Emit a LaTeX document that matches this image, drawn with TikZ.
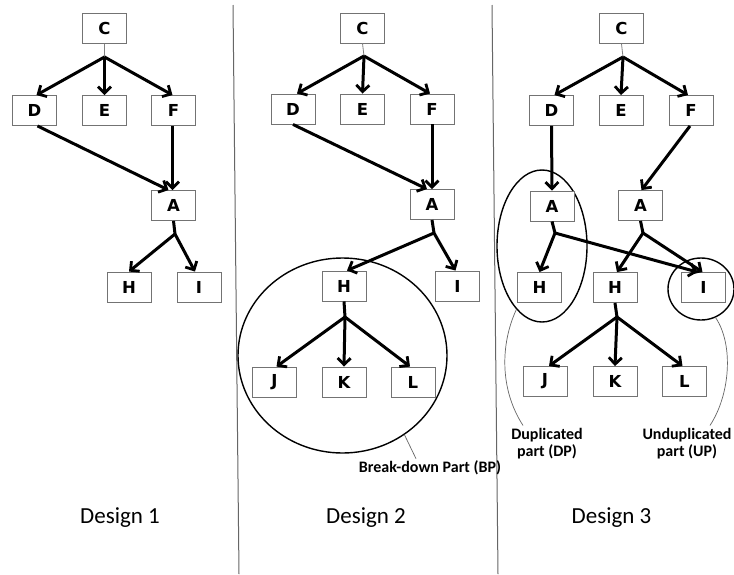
\documentclass[tikz,border=0pt]{standalone}
\usepackage{fontspec}
\setmainfont{Carlito}
\newfontfamily\letterfont{DejaVu Sans}
\usetikzlibrary{arrows.meta,shapes.geometric}
\begin{document}
\begin{tikzpicture}[x=1pt,y=-1pt,
 box/.style={draw=black!55,fill=white,line width=0.9pt,minimum width=44pt,minimum height=30pt,inner sep=0pt,font=\letterfont\bfseries\fontsize{16.5}{18}\selectfont},
 arr/.style={line width=3pt,-{Straight Barb[length=6.5pt,width=13pt,line width=2.8pt]}},
 stub/.style={line width=3pt},
 thinstub/.style={draw=black!50,line width=0.8pt},
 part/.style={draw,line width=1.4pt,ellipse,inner sep=0pt},
 lead/.style={draw=black!60,line width=0.7pt},
 note/.style={font=\bfseries\fontsize{16}{17}\selectfont,align=center,inner sep=0pt},
 title/.style={font=\fontsize{23}{26}\selectfont,inner sep=0pt},
 sep/.style={draw=black!60,line width=1pt}]
\useasboundingbox (0,0) rectangle (734,574);
\fill[white] (0,0) rectangle (734,574);
% separators
\draw[sep] (233,5) -- (239,574);
\draw[sep] (492,5) -- (498,574);
% ellipses
\node[part,minimum width=209pt,minimum height=195pt] (bp) at (342.5,355.5) {};
\node[part,minimum width=90pt,minimum height=152pt] (dp) at (542,246) {};
\node[part,minimum width=66pt,minimum height=62pt] (up) at (701,289) {};
% Design 1
\node[box] (c1) at (104.5,28.5) {C};
\node[box] (d1) at (34.5,110.5) {D};
\node[box] (e1) at (104.5,110.5) {E};
\node[box] (f1) at (173.5,110.5) {F};
\node[box] (a1) at (173.5,205.5) {A};
\node[box] (h1) at (129,287) {H};
\node[box] (i1) at (199,287) {I};
\coordinate (fc1) at (104.5,57);
\coordinate (fa1) at (175,234);
\draw[thinstub] (c1.south) -- (fc1);
\draw[arr] (fc1) -- ([xshift=2pt]d1.north);
\draw[arr] (fc1) -- (e1.north);
\draw[arr] (fc1) -- ([xshift=-1pt]f1.north);
\draw[arr] ([xshift=3pt]d1.south) -- ([xshift=-5pt]a1.north);
\draw[arr] ([xshift=-1pt]f1.south) -- ([xshift=-1pt]a1.north);
\draw[stub] (a1.south) -- (fa1);
\draw[arr] (fa1) -- (h1.north);
\draw[arr] (fa1) -- ([xshift=-4pt]i1.north);
% Design 2
\node[box] (c2) at (362.5,28) {C};
\node[box] (d2) at (293,109) {D};
\node[box] (e2) at (362.5,109) {E};
\node[box] (f2) at (432,109) {F};
\node[box] (a2) at (432,204.5) {A};
\node[box] (h2) at (344,286) {H};
\node[box] (i2) at (457.5,286) {I};
\node[box] (j2) at (274.5,382) {J};
\node[box] (k2) at (344,382) {K};
\node[box] (l2) at (413,382) {L};
\coordinate (fc2) at (364,56);
\coordinate (fa2) at (434,233);
\coordinate (fh2) at (345,317);
\draw[thinstub] (c2.south) -- (fc2);
\draw[arr] (fc2) -- ([xshift=4pt]d2.north);
\draw[arr] (fc2) -- (e2.north);
\draw[arr] (fc2) -- ([xshift=-2pt]f2.north);
\draw[arr] (d2.south) -- ([xshift=-5pt]a2.north);
\draw[arr] (f2.south) -- (a2.north);
\draw[stub] (a2.south) -- (fa2);
\draw[arr] (fa2) -- ([xshift=3pt]h2.north);
\draw[arr] (fa2) -- ([xshift=-2pt]i2.north);
\draw[stub] (h2.south) -- (fh2);
\draw[arr] (fh2) -- ([xshift=2pt]j2.north);
\draw[arr] (fh2) -- (k2.north);
\draw[arr] (fh2) -- ([xshift=-3pt]l2.north);
% Design 3
\node[box] (c3) at (621.5,28.5) {C};
\node[box] (d3) at (551.5,110.5) {D};
\node[box] (e3) at (621,110.5) {E};
\node[box] (f3) at (691,110.5) {F};
\node[box] (a3) at (552,206) {A};
\node[box] (aa3) at (640.5,205.5) {A};
\node[box] (h3) at (539.5,287.5) {H};
\node[box] (hh3) at (615,287.5) {H};
\node[box] (i3) at (703.5,287.5) {I};
\node[box] (j3) at (545,381.5) {J};
\node[box] (k3) at (615,381.5) {K};
\node[box] (l3) at (684.5,381.5) {L};
\coordinate (fc3) at (623,57);
\coordinate (fa3) at (555,233);
\coordinate (faa3) at (643,233);
\coordinate (fh3) at (617,317);
\draw[thinstub] (c3.south) -- (fc3);
\draw[arr] (fc3) -- ([xshift=3pt]d3.north);
\draw[arr] (fc3) -- (e3.north);
\draw[arr] (fc3) -- ([xshift=-3pt]f3.north);
\draw[arr] (d3.south) -- (a3.north);
\draw[arr] ([xshift=-1pt]f3.south) -- ([xshift=1pt]aa3.north);
\draw[stub] (a3.south) -- (fa3);
\draw[arr] (fa3) -- (h3.north);
\draw[arr] (fa3) -- ([xshift=-6pt]i3.north);
\draw[stub] (aa3.south) -- (faa3);
\draw[arr] (faa3) -- ([xshift=2pt]hh3.north);
\draw[arr] (faa3) -- ([xshift=-1pt]i3.north);
\draw[stub] (hh3.south) -- (fh3);
\draw[arr] (fh3) -- ([xshift=4pt]j3.north);
\draw[arr] (fh3) -- (k3.north);
\draw[arr] (fh3) -- ([xshift=-2pt]l3.north);
% labels
\node[note] (bpl) at (430,468) {Break-down Part (BP)};
\node[note] (dpl) at (547,444) {Duplicated\\part (DP)};
\node[note] (upl) at (687,444) {Unduplicated\\part (UP)};
\draw[lead] (bp.-52) -- ([xshift=-14pt,yshift=2pt]bpl.north);
\draw[lead] (dp.248) .. controls (500,345) and (500,390) .. ([xshift=-24pt,yshift=3pt]dpl.north);
\draw[lead] (up.297) .. controls (734,345) and (730,395) .. ([xshift=23pt,yshift=3pt]upl.north);
% titles
\node[title] (t1) at (120,518) {Design 1};
\node[title] (t2) at (366,518) {Design 2};
\node[title] (t3) at (611.5,518) {Design 3};
\end{tikzpicture}
\end{document}
